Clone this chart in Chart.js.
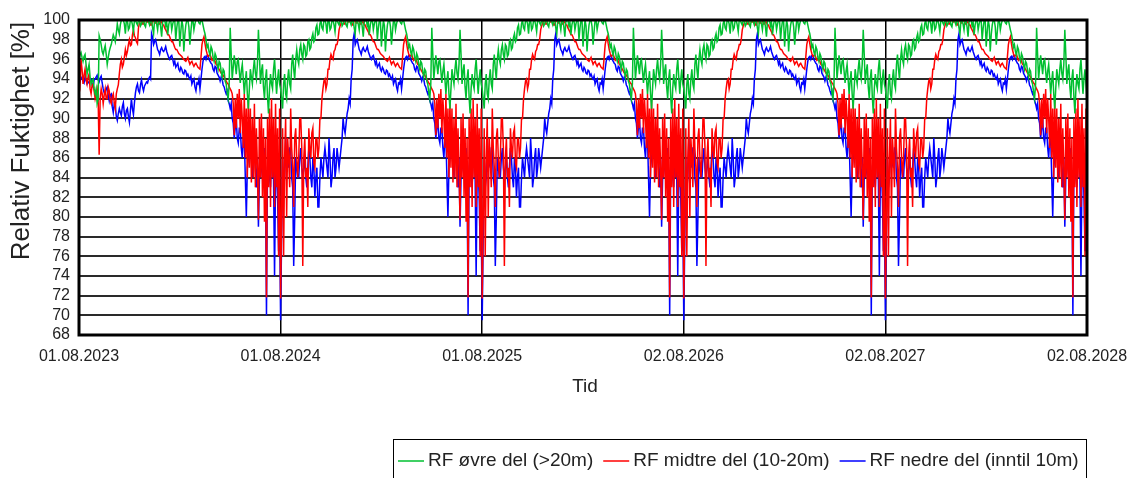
<!DOCTYPE html>
<html>
<head>
<meta charset="utf-8">
<script src="https://cdn.jsdelivr.net/npm/chart.js@4/dist/chart.umd.min.js"></script>
<style>
    body { margin: 0; background: #fff; }
    canvas { display: block; }
</style>
</head>
<body>
<canvas id="rfChart" width="1131" height="478"></canvas>
<script>
// Tick labels on the time axis (one per year boundary)
const xTickLabels = ['01.08.2023', '01.08.2024', '01.08.2025', '02.08.2026', '02.08.2027', '02.08.2028'];
const pointsPerYear = 200;

// Y axis range
const yMin = 68;
const yMax = 100;
const yStep = 2;

// Series names
const seriesNames = ['RF øvre del (>20m)', 'RF midtre del (10-20m)', 'RF nedre del (inntil 10m)'];
const seriesColors = ['#00c030', '#ff0000', '#0000ff'];

// First year starts differently (start-up values), then follows the yearly cycle
const greenFirstStart = [
    96, 96.5, 96.7, 96.2, 95.8, 96.3, 96.5, 95.5, 94.5, 95,
    95.5, 94.2, 93.5, 93.8, 94, 93, 92.5, 93, 91.5, 91.9,
    98.4, 98, 97.5, 96.8, 96.5, 97, 97.4, 96.5, 95.5, 96.2,
    96.8, 97.2, 97.5, 98, 98.5, 98.2, 97.8, 98.6, 99.6, 99,
    98.6, 99.5, 100, 100
];
const redFirstStart = [
    94, 93.4, 96, 95, 93.5, 94.4, 95, 94, 93.5, 94.2,
    94.5, 93, 92.5, 93.4, 93.5, 92.8, 92, 92.5, 93, 92,
    86.3, 92, 93, 92.5, 91.5, 92.4, 93, 92, 92, 93.2,
    92.8, 91.8, 91.5, 92.2, 92.5, 91.6, 91, 92.5, 93, 93.4,
    94.5, 95.5, 96, 95.2, 95.5, 96.2, 97, 96.4, 96.8, 97.5,
    98, 97.4, 97.5, 98.5, 99, 98.4, 98.2, 97.8, 97.6, 99.2,
    99.7, 100
];
const blueFirstStart = [
    93.5, 93.8, 94, 94.2, 93.8, 93.6, 94.2, 93.9, 93.5, 93.7,
    93.6, 94, 94, 93.5, 93.2, 93.9, 94, 94.2, 94.4, 93.9,
    93.7, 94.1, 94.3, 93.6, 93, 92.6, 92.5, 93, 93.2, 92.4,
    91.8, 92.4, 92.5, 91.2, 90.6, 91.5, 91.4, 90.2, 89.8, 90.5,
    91, 90.6, 90.3, 91.2, 91.6, 90.5, 90, 90.8, 91, 90.2,
    89.6, 90.8, 92, 91, 90.4, 91.6, 92.6, 93.2, 93.5, 92.8,
    92.6, 93.4, 93.9, 93.2, 92.8, 93.3, 93.5, 93.7, 93.6, 94,
    94.2, 94, 98.6, 98.2
];

// One year of values (Aug -> Aug); the picture repeats this cycle every year
const greenYear = [
    93, 92, 91, 93.5, 94.5, 92.5, 92, 94, 95, 93.5,
    93, 95.5, 96.5, 95, 94, 96, 97, 96, 95.5, 97,
    97.5, 96.5, 96, 97.5, 97.3, 96.3, 96.5, 97.8, 98, 97,
    97.2, 98.2, 98.6, 97.8, 98, 99.2, 99.5, 98.5, 98.6, 99.6,
    100, 99.2, 99, 100, 100, 99.6, 98.6, 100, 100, 99,
    99.2, 100, 100, 99.5, 98.8, 100, 100, 99.7, 99.5, 100,
    100, 99.4, 99.6, 100, 100, 99.5, 99.3, 100, 100, 99.8,
    99.5, 100, 100, 99.2, 98.6, 100, 100, 99.6, 99, 100,
    100, 99.3, 98.3, 99.8, 100, 100, 99.4, 99.8, 98.5, 99.5,
    100, 100, 99, 99.6, 100, 100, 98, 99.2, 100, 100,
    97.3, 98.8, 100, 99.4, 96.8, 98.5, 99.5, 100, 100, 99.3,
    97.5, 98.8, 100, 100, 99, 99.6, 100, 100, 100, 99.7,
    99.6, 100, 100, 99.5, 99, 98.6, 98, 97.2, 97.5, 96.8,
    96.4, 97.3, 97, 96.2, 95.8, 96.6, 96.3, 95.5, 95, 95.8,
    95.6, 94.8, 94.2, 95, 94.8, 93.8, 93.5, 92.6, 92, 93.5,
    99.2, 96.5, 94, 95.2, 96.4, 95.5, 94.5, 95.8, 96, 94.8,
    93.6, 94.8, 95.5, 94, 92.5, 93.8, 94.8, 92.5, 91, 93,
    95, 94.2, 93.5, 95, 96, 94.6, 94, 95.5, 99, 96.5,
    93.5, 94.8, 95.5, 93.2, 92, 94, 95, 92.2, 90.5, 93,
    94.5, 93.5, 93, 95, 96, 94.2, 92.5, 94, 95, 93.5
];
const redYear = [
    71.7, 80, 89, 76, 86, 90, 80, 88, 86, 83,
    91, 87, 85, 81, 88, 89, 86, 84, 86, 90,
    90, 87, 75, 86, 88, 84, 85, 81, 89, 87,
    86, 88.5, 89, 85.5, 85, 88, 88, 86, 87, 90,
    90, 92, 93, 93.8, 94, 93, 93.5, 95, 95, 96,
    96.5, 96.2, 96, 96.8, 97, 97.5, 97.5, 98, 99, 99.4,
    99.7, 100, 100, 99.6, 99.6, 100, 100, 99.8, 99.8, 100,
    100, 99.5, 99.5, 100, 100, 99.7, 99.7, 100, 100, 99.6,
    99.6, 99.8, 99.8, 99.5, 99.5, 99.2, 99, 98.8, 98.5, 98.5,
    98.3, 98, 97.8, 97.8, 97.5, 97.2, 97, 97, 96.8, 96.6,
    96.5, 96.4, 96.3, 96.1, 96, 95.9, 95.8, 96, 96.2, 95.8,
    95.5, 95.7, 95.8, 95.5, 95.3, 95.5, 95.6, 95.4, 95.2, 95.1,
    95, 96.2, 97.5, 98, 98.3, 97.6, 97, 96.6, 96.3, 96.4,
    96.5, 96.2, 95.9, 96, 96.1, 95.8, 95.5, 95.4, 95.2, 95,
    94.8, 94.6, 94.5, 94.4, 94.2, 94, 93.8, 93.6, 93.5, 93.2,
    93, 92.8, 92.5, 91.5, 88.3, 92, 89, 92.5, 90, 93,
    88.5, 92, 90, 87, 92.5, 86, 91, 84, 92, 85,
    91, 83.5, 90, 84, 91.5, 83, 89, 85, 79.7, 90,
    84, 90.5, 82, 89, 79.5, 88, 71.8, 90, 83, 91,
    81, 92, 84, 90, 81, 91.5, 83, 89, 76, 91
];
const blueYear = [
    69.5, 78, 86, 83, 84, 88, 85, 86, 85, 87,
    87, 84, 83, 75, 80, 86, 85, 84, 84, 86,
    87, 85, 84, 85, 86, 84, 83, 85, 87, 86,
    84, 83, 86, 85, 82, 84, 85, 81, 81, 84,
    86, 85, 84, 86, 87, 86, 85, 84, 88, 86,
    83, 84, 86, 87, 84, 85, 87, 86, 85, 86,
    87, 88, 90, 89, 88.5, 89.5, 90.5, 91, 92, 91.5,
    94, 95, 98, 98.6, 97.5, 97.8, 98, 97.5, 97, 96.8,
    96.5, 97, 97.2, 96.9, 96.8, 97, 97.3, 96.8, 96.5, 96.2,
    96, 96.3, 96.4, 96, 95.5, 95.8, 95.2, 95.4, 95.6, 95,
    94.8, 95.2, 95, 94.6, 94.5, 94.9, 94.8, 94.3, 94.5, 94.2,
    94, 94.3, 93.5, 93.8, 94, 93.2, 92.8, 93.6, 93.5, 94,
    93, 94, 95, 95.8, 96.2, 96.3, 96, 96.4, 96.4, 96,
    95.8, 95.6, 95.5, 95, 94.8, 95.3, 95.2, 94.6, 94.4, 94.2,
    93.8, 94.2, 94, 93.4, 93.2, 92.8, 92.5, 92.8, 91.8, 91.5,
    91, 91.5, 90, 89.5, 88, 89, 90, 88, 87.5, 89,
    89, 87, 86, 88, 88, 84, 80, 85, 86, 87,
    88, 86, 84, 86, 87, 85, 83, 86, 79, 84,
    86, 85, 84, 86, 87, 84, 70, 85, 86, 84,
    83, 86, 88, 84, 74, 84, 85, 82, 76.5, 80
];

// Last reading at 02.08.2028
const lastValues = [92, 76, 73.5];

// Build {x, y} points for one series
function buildSeries(firstStart, yearValues, lastValue) {
    const years = xTickLabels.length - 1;
    let values = firstStart.concat(yearValues.slice(firstStart.length));
    for (let k = 1; k < years; k++) {
        values = values.concat(yearValues);
    }
    values.push(lastValue);
    return values.map((v, i) => ({ x: i, y: v }));
}

const FONT = "'Liberation Sans', Arial, sans-serif";

// Plot frame, axis titles and the boxed legend
const decorPlugin = {
    id: 'decor',
    afterDatasetsDraw(chart) {
        const { ctx, chartArea } = chart;
        ctx.save();
        ctx.strokeStyle = '#000';
        ctx.lineWidth = 3;
        ctx.strokeRect(chartArea.left, chartArea.top, chartArea.right - chartArea.left, chartArea.bottom - chartArea.top);
        ctx.restore();
    },
    afterDraw(chart) {
        const { ctx } = chart;
        ctx.save();
        ctx.fillStyle = '#222';

        // x title
        ctx.font = `19px ${FONT}`;
        ctx.textAlign = 'center';
        ctx.textBaseline = 'middle';
        ctx.fillText('Tid', 585, 387);

        // y title
        ctx.save();
        ctx.translate(22, 141);
        ctx.rotate(-Math.PI / 2);
        ctx.font = `26px ${FONT}`;
        ctx.fillText('Relativ Fuktighet [%]', 0, 0);
        ctx.restore();

        // legend
        ctx.strokeStyle = '#000';
        ctx.lineWidth = 1;
        ctx.strokeRect(393.5, 439.5, 693, 40);
        ctx.font = `19px ${FONT}`;
        ctx.textAlign = 'left';
        let x = 398;
        const y = 461;
        seriesNames.forEach((name, k) => {
            ctx.strokeStyle = seriesColors[k];
            ctx.lineWidth = 1.5;
            ctx.beginPath();
            ctx.moveTo(x, y);
            ctx.lineTo(x + 26, y);
            ctx.stroke();
            ctx.fillStyle = '#222';
            ctx.fillText(name, x + 30, y);
            x += 30 + ctx.measureText(name).width + 10;
        });
        ctx.restore();
    }
};

const ctx = document.getElementById('rfChart').getContext('2d');
new Chart(ctx, {
    type: 'line',
    data: {
        datasets: [
            { label: seriesNames[0], data: buildSeries(greenFirstStart, greenYear, lastValues[0]), borderColor: seriesColors[0] },
            { label: seriesNames[1], data: buildSeries(redFirstStart, redYear, lastValues[1]), borderColor: seriesColors[1] },
            { label: seriesNames[2], data: buildSeries(blueFirstStart, blueYear, lastValues[2]), borderColor: seriesColors[2] }
        ]
    },
    options: {
        responsive: false,
        animation: false,
        devicePixelRatio: 1,
        layout: { padding: { top: 20, right: 44, left: 0, bottom: 0 } },
        elements: {
            line: { borderWidth: 1.5, tension: 0 },
            point: { radius: 0 }
        },
        plugins: {
            legend: { display: false },
            tooltip: { enabled: false }
        },
        scales: {
            x: {
                type: 'linear',
                min: 0,
                max: (xTickLabels.length - 1) * pointsPerYear,
                afterBuildTicks: (scale) => {
                    scale.ticks = xTickLabels.map((_, k) => ({ value: k * pointsPerYear }));
                },
                afterFit: (scale) => {
                    scale.height = 143;
                    scale.paddingLeft = 0;
                    scale.paddingRight = 0;
                },
                ticks: {
                    autoSkip: false,
                    maxRotation: 0,
                    padding: 12,
                    color: '#222',
                    font: { family: FONT, size: 16 },
                    callback: (v) => xTickLabels[Math.round(v / pointsPerYear)]
                },
                grid: { color: '#000', lineWidth: 1.5, drawTicks: false },
                border: { display: false }
            },
            y: {
                min: yMin,
                max: yMax,
                afterFit: (scale) => {
                    scale.width = 79;
                    scale.paddingTop = 0;
                    scale.paddingBottom = 0;
                },
                ticks: {
                    stepSize: yStep,
                    autoSkip: false,
                    padding: 9,
                    color: '#222',
                    font: { family: FONT, size: 16 }
                },
                grid: { color: '#2a2a2a', lineWidth: 2, drawTicks: false },
                border: { display: false }
            }
        }
    },
    plugins: [decorPlugin]
});
</script>
</body>
</html>
